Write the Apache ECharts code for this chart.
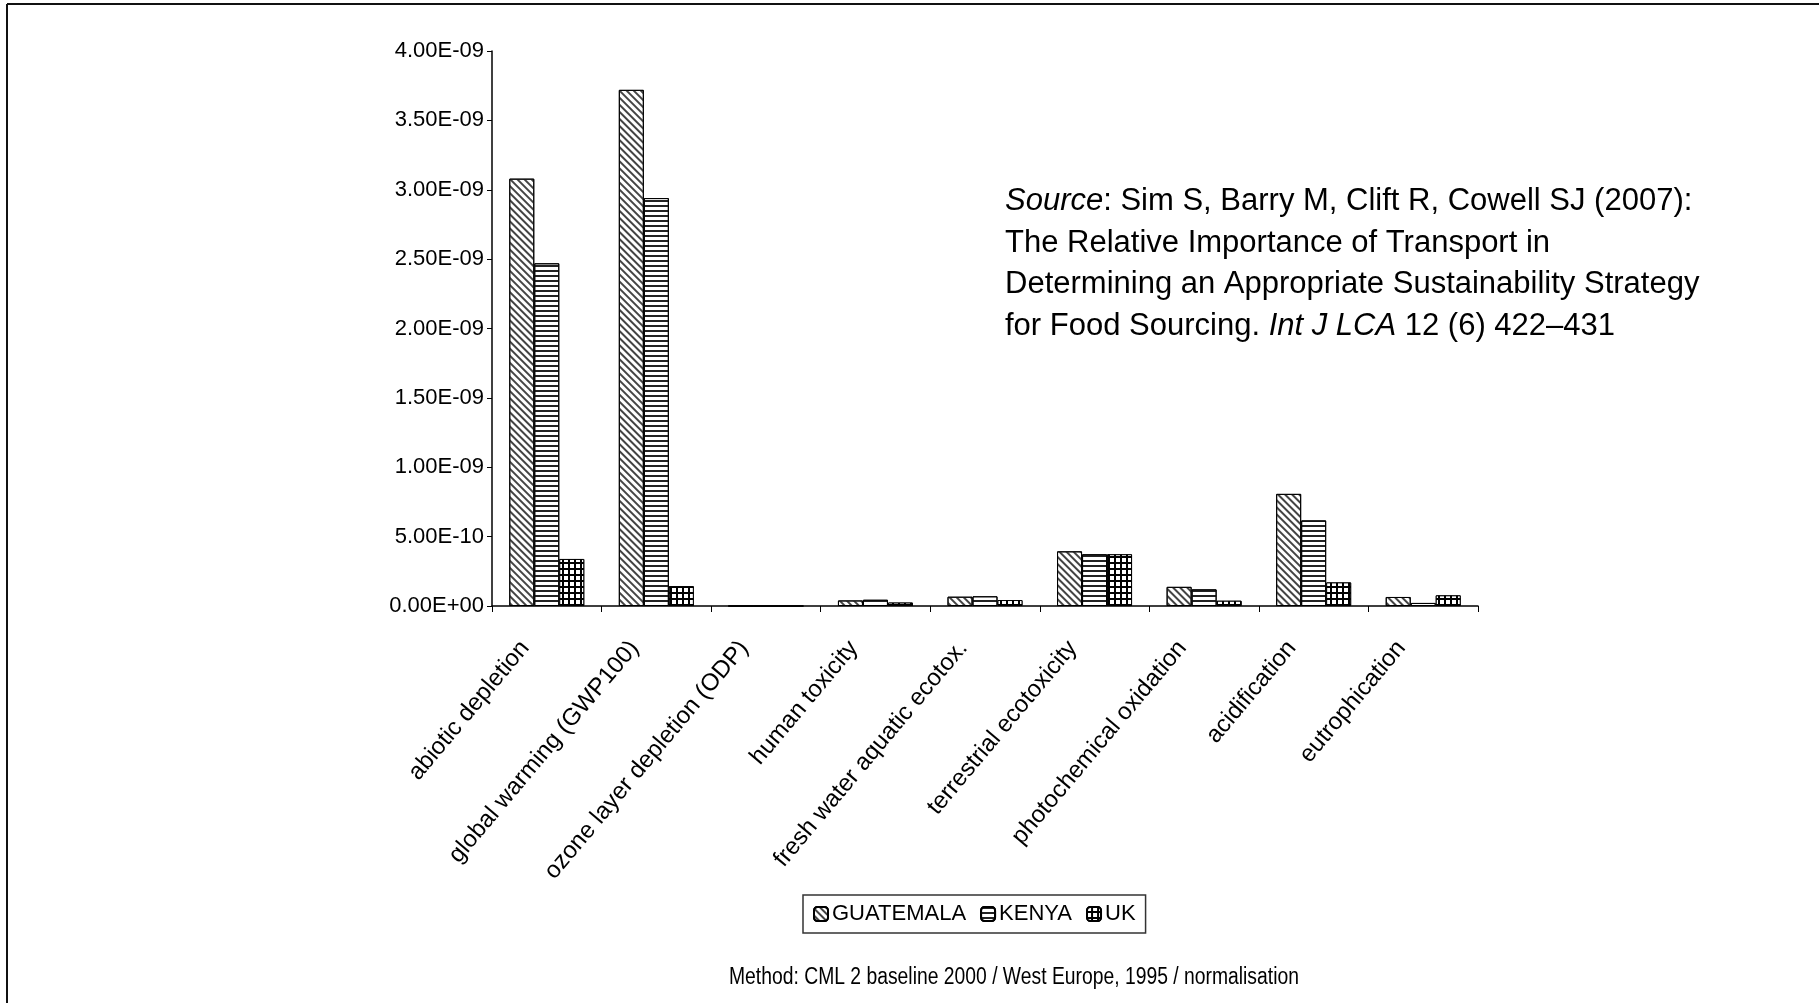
<!DOCTYPE html>
<html>
<head>
<meta charset="utf-8">
<script src="https://cdn.jsdelivr.net/npm/echarts@6/dist/echarts.min.js"></script>
<style>
  html, body { margin: 0; padding: 0; background: #fff; }
  #chart { width: 1819px; height: 1003px; }
</style>
</head>
<body>
<div id="chart"></div>
<script>
// impact categories (x axis)
const categories = [
  "abiotic depletion",
  "global warming (GWP100)",
  "ozone layer depletion (ODP)",
  "human toxicity",
  "fresh water aquatic ecotox.",
  "terrestrial ecotoxicity",
  "photochemical oxidation",
  "acidification",
  "eutrophication",
];
// normalised values
const guatemala = [3.08e-9, 3.72e-9, 0, 0.04e-9, 0.067e-9, 0.394e-9, 0.138e-9, 0.808e-9, 0.065e-9];
const kenya = [2.47e-9, 2.94e-9, 0, 0.045e-9, 0.07e-9, 0.373e-9, 0.12e-9, 0.617e-9, 0.022e-9];
const uk = [0.339e-9, 0.143e-9, 0, 0.025e-9, 0.043e-9, 0.373e-9, 0.038e-9, 0.17e-9, 0.077e-9];
const yMin = 0;
const yMax = 4e-9;
const yStep = 5e-10;

const FONT = "'Liberation Sans', Arial, sans-serif";

function fmtE(v) {
  if (Math.abs(v) < 1e-15) return "0.00E+00";
  const parts = v.toExponential(2).split("e");
  const n = parseInt(parts[1], 10);
  return parts[0] + "E" + (n < 0 ? "-" : "+") + String(Math.abs(n)).padStart(2, "0");
}

const chart = echarts.init(document.getElementById("chart"), null, { renderer: "canvas" });

const option = {
  backgroundColor: "#fff",
  animation: false,
  textStyle: { fontFamily: FONT, color: "#000" },
  title: {
    left: 1000,
    top: 176,
    text: "{i|Source}{n|: Sim S, Barry M, Clift R, Cowell SJ (2007):}\n" +
      "{n|The Relative Importance of Transport in}\n" +
      "{n|Determining an Appropriate Sustainability Strategy}\n" +
      "{n|for Food Sourcing. }{i|Int J LCA}{n| 12 (6) 422\u2013431}",
    textStyle: {
      fontWeight: "normal",
      rich: {
        n: { fontFamily: FONT, fontSize: 31, fontWeight: "normal", lineHeight: 41.5, color: "#000" },
        i: { fontFamily: FONT, fontSize: 31, fontWeight: "normal", lineHeight: 41.5, color: "#000", fontStyle: "italic" },
      },
    },
  },
  legend: {
    left: 803,
    top: 895,
    orient: "horizontal",
    padding: [8, 10, 8, 10],
    itemWidth: 14,
    itemHeight: 14,
    itemGap: 14,
    borderColor: "#333",
    borderWidth: 1.5,
    textStyle: { fontFamily: FONT, fontSize: 22, color: "#000", padding: [0, 0, 0, -1] },
    data: ["GUATEMALA", "KENYA", "UK"],
  },
  grid: {
    left: 492,
    right: 341,
    top: 51,
    bottom: 397,
    containLabel: false,
  },
  xAxis: {
    type: "category",
    data: categories,
    boundaryGap: true,
    axisLine: { show: true, lineStyle: { color: "#000", width: 1.5 } },
    axisTick: { show: true, inside: false, length: 6, alignWithLabel: false, lineStyle: { color: "#000" } },
    axisLabel: {
      interval: 0,
      rotate: 50,
      margin: 12,
      padding: [0, 34, 0, 0],
      fontFamily: FONT,
      fontSize: 24,
      color: "#000",
    },
  },
  yAxis: {
    type: "value",
    min: yMin,
    max: yMax,
    interval: yStep,
    splitLine: { show: false },
    axisLine: { show: true, lineStyle: { color: "#000", width: 1.5 } },
    axisTick: { show: true, inside: false, length: 5, lineStyle: { color: "#000" } },
    axisLabel: {
      margin: 8,
      fontFamily: FONT,
      fontSize: 22,
      color: "#000",
      formatter: fmtE,
    },
  },
  series: [
    {
      name: "GUATEMALA",
      type: "bar",
      data: guatemala,
      barWidth: 25,
      barGap: "0%",
      itemStyle: {
        color: "#fff",
        borderColor: "#000",
        borderWidth: 1,
        decal: {
          symbol: "rect",
          dashArrayX: [1, 0],
          dashArrayY: [1.5, 2.5],
          rotation: Math.PI / 4,
          color: "#444",
        },
      },
    },
    {
      name: "KENYA",
      type: "bar",
      data: kenya,
      barWidth: 25,
      barGap: "0%",
      itemStyle: {
        color: "#fff",
        borderColor: "#000",
        borderWidth: 1,
        decal: {
          symbol: "rect",
          dashArrayX: [1, 0],
          dashArrayY: [1.5, 3],
          rotation: 0,
          color: "#222",
        },
      },
    },
    {
      name: "UK",
      type: "bar",
      data: uk,
      barWidth: 25,
      barGap: "0%",
      itemStyle: {
        color: "#000",
        borderColor: "#000",
        borderWidth: 1,
        decal: {
          symbol: "rect",
          symbolSize: 1,
          dashArrayX: [4, 1.5],
          dashArrayY: [4, 1.5],
          rotation: 0,
          color: "#fff",
        },
      },
    },
  ],
  graphic: [
    { type: "line", shape: { x1: 7, y1: 4, x2: 1819, y2: 4 }, style: { stroke: "#111", lineWidth: 2 } },
    { type: "line", shape: { x1: 7, y1: 4, x2: 7, y2: 1003 }, style: { stroke: "#111", lineWidth: 2 } },
    // footnote in a condensed face (narrowed Liberation Sans)
    {
      type: "text",
      x: 729,
      y: 978,
      scaleX: 0.84,
      style: {
        text: "Method: CML 2 baseline 2000 / West Europe, 1995 / normalisation",
        font: "23px 'Liberation Sans', Arial, sans-serif",
        fill: "#000",
        verticalAlign: "middle",
        align: "left",
      },
    },
  ],
};

chart.setOption(option);
</script>
</body>
</html>
